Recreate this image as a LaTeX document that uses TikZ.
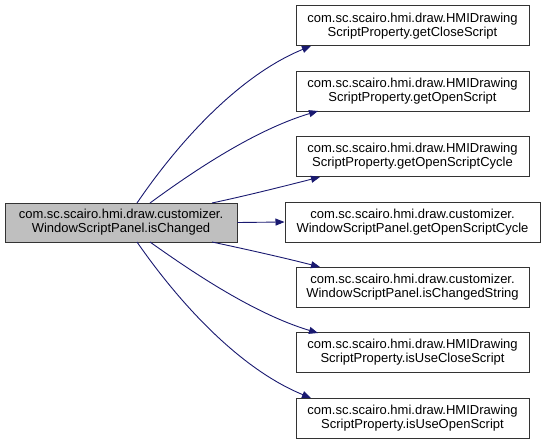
\documentclass[tikz,border=0pt]{standalone}
\usepackage{fontspec}
\setmainfont{Liberation Sans}
\usetikzlibrary{arrows.meta}
\begin{document}
\begin{tikzpicture}[x=1pt,y=-1pt,
  box/.style={draw=black!80,line width=1pt,fill=white,inner sep=0pt,align=center,
    font=\fontsize{13}{14.2}\selectfont},
  edge/.style={draw={rgb,255:red,25;green,25;blue,112},line width=0.9pt,
    -{Triangle[length=9pt,width=7pt,fill={rgb,255:red,25;green,25;blue,112}]}}]
\useasboundingbox (0,0) rectangle (545,444);
\node[box,fill=black!25,minimum width=232pt,minimum height=39pt] (m) at (121,222.5)
  {com.sc.scairo.hmi.draw.customizer.\\WindowScriptPanel.isChanged};
\node[box,minimum width=233pt,minimum height=40pt] (b1) at (412.5,26)
  {com.sc.scairo.hmi.draw.HMIDrawing\\ScriptProperty.getCloseScript};
\node[box,minimum width=233pt,minimum height=40pt] (b2) at (412.5,91)
  {com.sc.scairo.hmi.draw.HMIDrawing\\ScriptProperty.getOpenScript};
\node[box,minimum width=233pt,minimum height=40pt] (b3) at (412.5,156.5)
  {com.sc.scairo.hmi.draw.HMIDrawing\\ScriptProperty.getOpenScriptCycle};
\node[box,minimum width=255pt,minimum height=40pt] (b4) at (412.5,222)
  {com.sc.scairo.hmi.draw.customizer.\\WindowScriptPanel.getOpenScriptCycle};
\node[box,minimum width=233pt,minimum height=40pt] (b5) at (412.5,287.5)
  {com.sc.scairo.hmi.draw.customizer.\\WindowScriptPanel.isChangedString};
\node[box,minimum width=233pt,minimum height=40pt] (b6) at (412.5,352.5)
  {com.sc.scairo.hmi.draw.HMIDrawing\\ScriptProperty.isUseCloseScript};
\node[box,minimum width=233pt,minimum height=40pt] (b7) at (412.5,418)
  {com.sc.scairo.hmi.draw.HMIDrawing\\ScriptProperty.isUseOpenScript};
\coordinate (s1) at (137,203);
\coordinate (s2) at (150,203);
\coordinate (s3) at (212,203);
\coordinate (s5) at (212,242);
\coordinate (s6) at (150,242);
\coordinate (s7) at (137,242);
\coordinate (t1) at (311,46);
\coordinate (t2) at (318,111);
\coordinate (t3) at (320,177);
\coordinate (t5) at (320,267);
\coordinate (t6) at (318,333);
\coordinate (t7) at (311,398);
\draw[edge] (s1) .. controls (180,140) and (240,75) .. (t1);
\draw[edge] (s2) .. controls (195,170) and (255,130) .. (t2);
\draw[edge] (s3) .. controls (245,196) and (285,186) .. (t3);
\draw[edge] (m.east) -- (b4.west);
\draw[edge] (s5) .. controls (245,249) and (285,258) .. (t5);
\draw[edge] (s6) .. controls (195,274) and (255,314) .. (t6);
\draw[edge] (s7) .. controls (180,304) and (240,369) .. (t7);
\end{tikzpicture}
\end{document}
